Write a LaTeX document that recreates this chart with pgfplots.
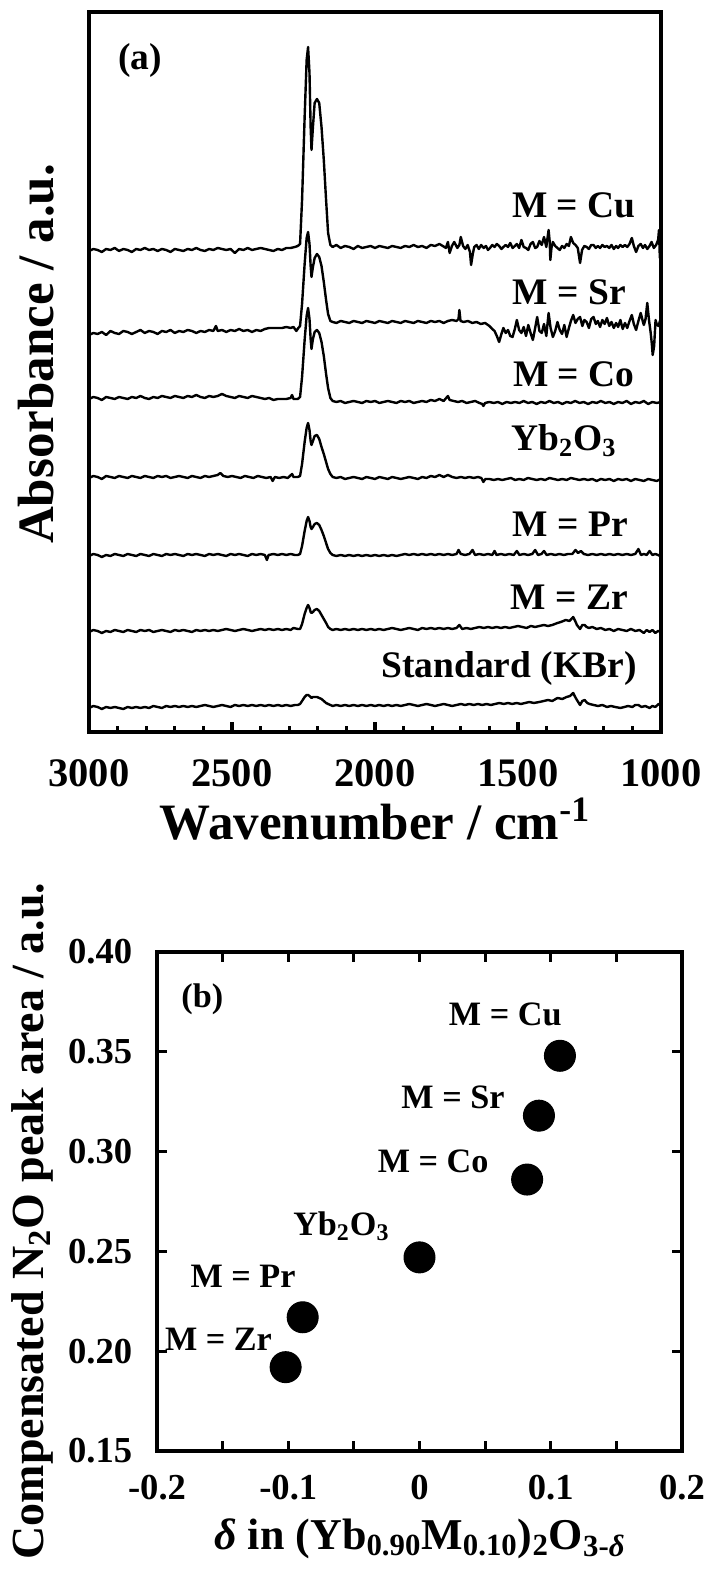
\documentclass[border=0pt]{standalone}
\usepackage{fontspec}
\setmainfont{Liberation Serif}
\usepackage{pgfplots}
\pgfplotsset{compat=1.18}

\newcommand{\lblfont}{\fontsize{18.75}{20}\selectfont\bfseries}
\newcommand{\lblfontB}{\fontsize{17.1}{19}\selectfont\bfseries}
\newcommand{\axfontA}{\fontsize{25.5}{28}\selectfont\bfseries}
\newcommand{\axfontB}{\fontsize{23}{25}\selectfont\bfseries}
\newcommand{\axfontC}{\fontsize{22}{24}\selectfont\bfseries}

\begin{document}
\begin{tikzpicture}[font=\bfseries]
\path[use as bounding box] (0,0) rectangle (352.5pt,786.5pt);

% ---------------- (a) FT-IR spectra ----------------
\begin{axis}[
  scale only axis, width=286pt, height=360pt,
  at={(44.5pt,420.5pt)}, anchor=south west,
  xmin=1000, xmax=3000, x dir=reverse, ymin=0, ymax=720,
  line width=1.8pt,
  axis line style={line width=1.8pt, line cap=rect},
  every tick/.style={black, line width=1.6pt},
  tick align=inside, xtick pos=bottom, ytick=\empty,
  xtick={1000,1500,2000,2500,3000},
  xticklabels={1000,1500,2000,2500,3000},
  minor xtick={1100,1200,1300,1400,1600,1700,1800,1900,2100,2200,2300,2400,2600,2700,2800,2900},
  major tick length=5pt, minor tick length=2.8pt,
  xticklabel style={font=\fontsize{20.25}{22}\selectfont\bfseries, anchor=base, inner sep=0pt, yshift=-27.5pt},
  every axis plot/.append style={line width=1.2pt, black, line join=round},
]
% M = Cu
\addplot[mark=none] coordinates {
(3000,481)(2985,483)(2970,482)(2955,480)(2940,483)(2925,482)(2910,484)(2895,481)(2880,483)(2865,482)(2850,480)(2835,483)(2820,482)(2805,484)(2790,482)(2775,483)(2760,481)(2745,483)(2730,482)(2715,480)(2700,483)(2685,482)(2670,481)(2655,483)(2640,482)(2625,484)(2610,482)(2595,481)(2580,483)(2565,482)(2550,484)(2535,483)(2520,482)(2505,483)(2490,479)(2475,483)(2460,482)(2445,484)(2430,482)(2415,483)(2400,484)(2385,483)(2370,482)(2355,481)(2340,483)(2325,482)(2310,484)(2295,484)(2280,485)(2270,486)
(2262,488)(2255,532)(2246,615)(2239,672)(2234,685)(2229,659)(2225,605)(2222,582)(2217,605)(2211,629)(2203,633)(2195,629)(2187,605)(2179,572)(2171,532)(2164,499)(2156,487)
(2148,485)(2135,487)(2120,484)(2105,486)(2090,485)(2075,483)(2060,486)(2045,484)(2030,485)(2015,486)(2000,484)(1985,486)(1970,485)(1955,484)(1940,486)(1925,485)(1910,484)(1895,486)(1880,485)(1865,487)(1850,485)(1835,486)(1820,484)(1805,487)(1790,486)(1775,488)(1763,486)(1752,484)(1745,490)(1739,479)(1731,486)(1723,490)(1712,484)(1705,487)(1700,495)(1692,486)(1684,483)(1676,487)(1668,480)(1664,467)(1658,478)(1653,485)(1645,487)(1637,483)(1629,487)(1620,484)(1612,486)(1605,482)(1598,484)(1590,487)(1582,485)(1574,488)(1566,486)(1558,483)(1551,485)(1543,487)(1535,485)(1527,489)(1519,484)(1511,486)(1504,488)(1496,484)(1488,492)(1480,485)(1472,484)(1464,482)(1456,488)(1448,490)(1440,484)(1433,485)(1425,491)(1417,487)(1409,495)(1401,485)(1393,502)(1389,490)(1387,472)(1383,484)(1378,490)(1370,486)(1362,484)(1354,482)(1346,486)(1338,484)(1330,488)(1322,486)(1315,495)(1307,489)(1299,487)(1291,484)(1283,469)(1276,482)(1268,486)(1260,485)(1252,483)(1244,487)(1236,487)(1228,484)(1221,486)(1213,484)(1205,487)(1197,485)(1189,486)(1181,484)(1173,487)(1165,483)(1157,486)(1150,484)(1142,487)(1134,485)(1126,487)(1118,485)(1110,488)(1102,494)(1095,486)(1087,480)(1079,486)(1071,488)(1063,484)(1056,487)(1048,483)(1040,486)(1033,490)(1025,484)(1017,487)(1010,492)(1007,502)(1004,474)(1000,493)
};
% M = Sr
\addplot[mark=none] coordinates {
(3000,397)(2985,399)(2970,398)(2955,400)(2940,397)(2925,401)(2910,399)(2895,398)(2880,401)(2865,400)(2850,398)(2835,400)(2820,402)(2805,399)(2790,401)(2775,400)(2760,398)(2745,401)(2730,400)(2715,402)(2700,399)(2685,401)(2670,400)(2655,402)(2640,401)(2625,399)(2610,401)(2595,400)(2580,402)(2565,401)(2556,406)(2550,401)(2535,402)(2520,400)(2505,402)(2490,401)(2475,403)(2460,401)(2445,402)(2430,400)(2415,402)(2400,401)(2385,403)(2370,404)(2355,404)(2340,404)(2325,404)(2310,405)(2295,404)(2285,405)(2275,401)(2268,404)
(2262,406)(2255,428)(2246,468)(2239,494)(2234,500)(2229,488)(2225,466)(2222,455)(2217,465)(2211,474)(2203,478)(2195,475)(2187,466)(2179,450)(2171,432)(2164,418)(2156,411)
(2148,410)(2135,409)(2120,411)(2105,410)(2090,409)(2075,411)(2060,410)(2045,409)(2030,411)(2015,410)(2000,409)(1985,411)(1970,410)(1955,409)(1940,411)(1925,410)(1910,409)(1895,411)(1880,410)(1865,409)(1850,411)(1835,410)(1820,409)(1805,411)(1790,410)(1775,411)(1760,409)(1745,411)(1730,412)(1715,411)(1708,413)(1705,422)(1701,411)(1690,410)(1675,411)(1660,409)(1645,410)(1630,408)(1615,409)(1600,406)(1590,403)(1582,401)(1574,396)(1566,390)(1558,398)(1551,404)(1543,399)(1535,402)(1527,396)(1519,395)(1511,403)(1504,412)(1496,402)(1488,399)(1480,405)(1472,396)(1464,407)(1456,399)(1448,392)(1440,404)(1433,415)(1425,401)(1417,399)(1409,408)(1401,396)(1393,419)(1386,404)(1378,395)(1370,401)(1362,410)(1354,402)(1346,398)(1338,407)(1330,395)(1322,404)(1315,411)(1307,417)(1299,409)(1291,413)(1283,415)(1275,406)(1268,412)(1260,410)(1252,404)(1244,413)(1236,415)(1228,408)(1221,411)(1213,405)(1205,412)(1197,408)(1189,414)(1181,406)(1173,410)(1165,404)(1157,409)(1150,405)(1142,412)(1134,403)(1126,409)(1118,404)(1110,411)(1102,417)(1095,408)(1087,402)(1079,411)(1071,419)(1063,410)(1060,407)(1054,413)(1048,429)(1042,412)(1036,399)(1032,388)(1029,377)(1024,386)(1019,412)(1014,407)(1008,406)(1004,411)(1000,410)
};
% M = Co
\addplot[mark=none] coordinates {
(3000,333)(2985,335)(2970,334)(2955,332)(2940,335)(2925,334)(2910,333)(2895,335)(2880,334)(2865,333)(2850,335)(2835,334)(2820,336)(2805,334)(2790,333)(2775,335)(2760,334)(2745,336)(2730,335)(2715,334)(2700,336)(2685,335)(2670,334)(2655,336)(2640,335)(2625,337)(2610,335)(2595,334)(2580,336)(2565,335)(2550,336)(2535,338)(2520,336)(2505,335)(2490,334)(2475,336)(2460,335)(2445,334)(2430,336)(2415,335)(2400,334)(2385,333)(2370,334)(2355,332)(2340,333)(2325,333)(2310,333)(2295,334)(2290,337)(2285,333)(2270,333)
(2262,335)(2255,355)(2246,392)(2239,416)(2234,424)(2229,413)(2225,393)(2222,383)(2217,393)(2211,400)(2203,402)(2195,399)(2187,390)(2179,376)(2171,358)(2164,344)(2156,334)
(2148,331)(2135,330)(2120,331)(2105,329)(2090,330)(2075,331)(2060,330)(2045,329)(2030,331)(2015,330)(2000,331)(1985,329)(1970,330)(1955,331)(1940,330)(1925,329)(1910,331)(1895,330)(1880,331)(1865,329)(1850,330)(1835,331)(1820,330)(1805,332)(1790,331)(1775,333)(1760,331)(1745,336)(1739,332)(1725,331)(1710,330)(1695,331)(1680,329)(1665,330)(1650,331)(1635,329)(1625,328)(1621,326)(1615,329)(1600,330)(1585,329)(1570,330)(1555,328)(1540,330)(1525,329)(1510,330)(1495,329)(1480,331)(1465,329)(1450,330)(1435,328)(1420,330)(1405,329)(1390,331)(1375,329)(1360,330)(1345,328)(1330,330)(1315,329)(1300,331)(1285,329)(1270,330)(1255,328)(1240,330)(1225,329)(1210,331)(1195,329)(1180,330)(1165,328)(1150,330)(1135,329)(1120,331)(1105,328)(1090,330)(1075,329)(1060,331)(1045,328)(1030,330)(1015,329)(1000,330)
};
% Yb2O3
\addplot[mark=none] coordinates {
(3000,254)(2985,256)(2970,255)(2955,253)(2940,256)(2925,255)(2910,254)(2895,256)(2880,255)(2865,254)(2850,256)(2835,255)(2820,254)(2805,256)(2790,255)(2775,254)(2760,256)(2745,255)(2730,256)(2715,254)(2700,255)(2685,256)(2670,255)(2655,254)(2640,256)(2625,255)(2610,254)(2595,256)(2580,255)(2565,256)(2550,257)(2541,259)(2530,256)(2515,255)(2500,256)(2485,255)(2470,254)(2455,256)(2440,255)(2425,254)(2410,256)(2395,255)(2380,254)(2365,255)(2358,251)(2350,255)(2335,254)(2320,255)(2305,254)(2290,258)(2285,255)(2270,255)
(2262,256)(2255,268)(2246,290)(2239,304)(2234,309)(2229,302)(2225,291)(2222,287)(2217,291)(2211,296)(2203,297)(2195,293)(2187,285)(2179,278)(2171,270)(2164,263)(2156,258)
(2148,255)(2135,254)(2120,255)(2105,253)(2090,254)(2075,255)(2060,254)(2045,253)(2030,255)(2015,254)(2000,253)(1985,255)(1970,254)(1955,253)(1940,255)(1925,254)(1910,253)(1895,254)(1880,255)(1865,254)(1850,253)(1835,255)(1820,254)(1805,256)(1790,255)(1775,257)(1760,255)(1745,257)(1730,255)(1715,254)(1700,255)(1685,254)(1670,255)(1655,254)(1640,255)(1628,254)(1621,250)(1614,253)(1600,253)(1585,252)(1570,253)(1555,252)(1540,253)(1525,254)(1510,252)(1495,253)(1480,252)(1465,254)(1450,253)(1435,252)(1420,253)(1405,252)(1390,254)(1375,253)(1360,252)(1345,253)(1330,252)(1315,254)(1300,253)(1285,252)(1270,253)(1255,252)(1240,253)(1225,251)(1210,253)(1195,252)(1180,253)(1165,251)(1150,253)(1135,252)(1120,253)(1105,251)(1090,253)(1075,252)(1060,251)(1045,253)(1030,252)(1015,251)(1000,253)
};
% M = Pr
\addplot[mark=none] coordinates {
(3000,176)(2985,178)(2970,177)(2955,175)(2940,177)(2925,176)(2910,178)(2895,177)(2880,176)(2865,178)(2850,177)(2835,176)(2820,178)(2805,177)(2790,176)(2775,178)(2760,177)(2745,176)(2730,178)(2715,177)(2700,178)(2685,177)(2670,176)(2655,178)(2640,177)(2625,178)(2610,177)(2595,176)(2580,178)(2565,177)(2550,178)(2535,177)(2520,176)(2505,178)(2490,177)(2475,178)(2460,177)(2445,176)(2430,178)(2415,177)(2400,178)(2385,177)(2378,172)(2372,177)(2355,178)(2340,177)(2325,178)(2310,177)(2295,178)(2280,177)(2270,177)
(2262,178)(2255,186)(2246,201)(2239,211)(2234,215)(2229,211)(2225,205)(2222,203)(2217,205)(2211,208)(2203,209)(2195,207)(2187,202)(2179,196)(2171,189)(2164,183)(2156,179)
(2148,177)(2135,176)(2120,177)(2105,176)(2090,177)(2075,176)(2060,177)(2045,176)(2030,177)(2015,176)(2000,177)(1985,176)(1970,177)(1955,176)(1940,177)(1925,176)(1910,177)(1895,178)(1880,177)(1865,178)(1850,177)(1835,178)(1820,177)(1805,178)(1790,177)(1775,178)(1760,177)(1745,178)(1730,177)(1715,178)(1708,182)(1700,178)(1685,177)(1670,178)(1659,182)(1650,177)(1635,178)(1620,177)(1605,178)(1590,177)(1582,181)(1575,177)(1560,178)(1545,177)(1530,178)(1515,177)(1504,181)(1495,177)(1480,178)(1465,177)(1450,178)(1440,182)(1430,177)(1418,178)(1409,181)(1400,177)(1385,178)(1370,177)(1355,178)(1340,177)(1325,178)(1310,178)(1299,182)(1290,179)(1280,181)(1270,178)(1255,177)(1240,178)(1225,177)(1210,178)(1195,177)(1180,178)(1165,177)(1150,178)(1135,177)(1120,178)(1105,177)(1090,178)(1079,183)(1070,177)(1060,178)(1050,177)(1040,181)(1030,177)(1020,178)(1010,177)(1003,176)(1000,178)
};
% M = Zr
\addplot[mark=none] coordinates {
(3000,100)(2985,102)(2970,101)(2955,99)(2940,101)(2925,100)(2910,102)(2895,101)(2880,100)(2865,102)(2850,101)(2835,100)(2820,102)(2805,101)(2790,102)(2775,100)(2760,101)(2745,102)(2730,101)(2715,100)(2700,102)(2685,101)(2670,102)(2655,101)(2640,100)(2625,102)(2610,101)(2595,102)(2580,101)(2565,102)(2550,101)(2535,102)(2520,103)(2505,102)(2490,101)(2475,102)(2460,103)(2445,102)(2430,101)(2415,102)(2400,103)(2385,102)(2370,103)(2355,102)(2340,103)(2325,102)(2310,103)(2295,102)(2285,104)(2270,103)
(2262,103)(2255,108)(2246,118)(2239,124)(2234,127)(2229,124)(2225,120)(2222,119)(2217,120)(2211,122)(2203,123)(2195,121)(2187,117)(2179,113)(2171,109)(2164,105)(2156,103)
(2148,102)(2135,103)(2120,102)(2105,103)(2090,102)(2075,103)(2060,102)(2045,103)(2030,102)(2015,103)(2000,102)(1985,103)(1970,102)(1955,103)(1940,104)(1925,103)(1910,102)(1895,103)(1880,104)(1865,103)(1850,102)(1835,104)(1820,103)(1805,104)(1790,103)(1775,104)(1760,103)(1745,104)(1730,103)(1715,104)(1705,107)(1695,103)(1680,104)(1665,103)(1650,104)(1635,105)(1620,104)(1605,105)(1590,104)(1575,105)(1560,104)(1545,105)(1530,104)(1515,105)(1500,106)(1485,105)(1470,104)(1455,106)(1440,105)(1425,106)(1410,107)(1395,106)(1380,107)(1362,109)(1350,110)(1333,112)(1320,111)(1307,115)(1300,111)(1294,107)(1283,103)(1275,107)(1267,107)(1260,105)(1252,104)(1240,105)(1225,103)(1210,104)(1195,102)(1180,103)(1165,101)(1150,103)(1135,102)(1120,101)(1105,103)(1090,101)(1075,102)(1060,99)(1050,102)(1040,100)(1030,102)(1020,99)(1010,101)(1000,100)
};
% Standard (KBr)
\addplot[mark=none] coordinates {
(3000,24)(2985,26)(2970,25)(2955,23)(2940,25)(2925,24)(2910,25)(2895,24)(2880,23)(2865,25)(2850,24)(2835,25)(2820,24)(2805,25)(2790,24)(2775,26)(2760,25)(2745,24)(2730,26)(2715,25)(2700,26)(2685,25)(2670,26)(2655,25)(2640,26)(2625,25)(2610,26)(2595,27)(2580,26)(2565,25)(2550,26)(2535,27)(2520,26)(2505,25)(2490,27)(2475,26)(2460,27)(2445,26)(2430,27)(2415,26)(2400,27)(2385,26)(2370,27)(2355,26)(2340,27)(2325,26)(2310,27)(2295,26)(2280,27)(2270,27)
(2262,28)(2255,31)(2246,35)(2239,37)(2234,37)(2229,36)(2225,35)(2222,34)(2217,35)(2211,35)(2203,35)(2195,34)(2187,33)(2179,31)(2171,29)(2164,28)(2156,27)
(2148,26)(2135,27)(2120,26)(2105,27)(2090,26)(2075,27)(2060,26)(2045,27)(2030,26)(2015,27)(2000,26)(1985,27)(1970,26)(1955,27)(1940,26)(1925,27)(1910,26)(1895,27)(1880,28)(1865,27)(1850,26)(1835,27)(1820,28)(1805,27)(1790,26)(1775,27)(1760,28)(1745,27)(1730,26)(1715,27)(1700,28)(1685,27)(1670,28)(1655,27)(1640,28)(1625,27)(1610,28)(1595,27)(1580,28)(1565,29)(1550,28)(1535,29)(1520,28)(1505,29)(1490,28)(1475,29)(1460,30)(1445,29)(1425,30)(1410,31)(1395,32)(1380,31)(1362,34)(1345,33)(1330,35)(1318,36)(1307,39)(1300,35)(1294,32)(1283,27)(1275,31)(1267,32)(1258,29)(1250,28)(1236,27)(1220,26)(1205,27)(1189,25)(1175,26)(1160,25)(1142,24)(1128,25)(1115,26)(1100,25)(1090,27)(1079,27)(1068,25)(1055,26)(1040,24)(1030,26)(1020,25)(1008,28)(1000,27)
};
\node[anchor=base west, font=\lblfont] at (axis cs:2927,662) {(a)};
\node[anchor=base east, font=\lblfont] at (axis cs:1059,514) {M = Cu};
\node[anchor=base east, font=\lblfont] at (axis cs:1094,427) {M = Sr};
\node[anchor=base east, font=\lblfont] at (axis cs:1063,345) {M = Co};
\node[anchor=base east, font=\lblfont] at (axis cs:1126,281) {Yb\textsubscript{2}O\textsubscript{3}};
\node[anchor=base east, font=\lblfont] at (axis cs:1087,195) {M = Pr};
\node[anchor=base east, font=\lblfont] at (axis cs:1087,122) {M = Zr};
\node[anchor=base east, font=\lblfont] at (axis cs:1056,54) {Standard (KBr)};
\end{axis}

\node[anchor=base, font=\axfontA] at (187.5pt,366.5pt) {Wavenumber / cm\textsuperscript{-1}};
\node[rotate=90, anchor=base, font=\axfontA] at (26.5pt,609.5pt) {Absorbance / a.u.};

% ---------------- (b) peak area vs. oxygen deficiency ----------------
\begin{axis}[
  scale only axis, width=262.5pt, height=249.5pt,
  at={(78.5pt,61pt)}, anchor=south west,
  xmin=-0.2, xmax=0.2, ymin=0.15, ymax=0.40,
  line width=1.8pt,
  axis line style={line width=1.8pt, line cap=rect},
  every tick/.style={black, line width=1.6pt},
  tick align=inside,
  xtick={-0.2,-0.1,0,0.1,0.2}, xticklabels={-0.2,-0.1,0,0.1,0.2},
  minor xtick={-0.15,-0.05,0.05,0.15},
  ytick={0.15,0.20,0.25,0.30,0.35,0.40},
  yticklabels={0.15,0.20,0.25,0.30,0.35,0.40},
  major tick length=5pt, minor tick length=5pt,
  xticklabel style={font=\fontsize{18.3}{20}\selectfont\bfseries, anchor=base, inner sep=0pt, yshift=-24.5pt},
  yticklabel style={font=\fontsize{18.3}{20}\selectfont\bfseries, anchor=east, inner sep=0pt, xshift=-11.5pt},
]
\addplot[only marks, mark=*, mark size=7.75pt, black, mark options={line width=0.5pt}] coordinates {
(0.107,0.348) (0.091,0.318) (0.082,0.286) (0.000,0.247) (-0.089,0.217) (-0.102,0.192)
};
\node[anchor=base west, font=\lblfontB] at (axis cs:-0.1878,0.3724) {(b)};
\node[anchor=base east, font=\lblfontB] at (axis cs:0.1147,0.3634) {M = Cu};
\node[anchor=base east, font=\lblfontB] at (axis cs:0.0712,0.3218) {M = Sr};
\node[anchor=base east, font=\lblfontB] at (axis cs:0.0590,0.2893) {M = Co};
\node[anchor=base east, font=\lblfontB] at (axis cs:-0.0164,0.2582) {Yb\textsubscript{2}O\textsubscript{3}};
\node[anchor=base east, font=\lblfontB] at (axis cs:-0.088,0.2317) {M = Pr};
\node[anchor=base east, font=\lblfontB] at (axis cs:-0.1060,0.2006) {M = Zr};
\end{axis}

\node[anchor=base, font=\axfontC] at (210pt,12pt) {{\itshape δ} in (Yb\textsubscript{0.90}M\textsubscript{0.10})\textsubscript{2}O\textsubscript{3-{\itshape δ}}};
\node[rotate=90, anchor=base, font=\axfontB] at (21.5pt,176pt) {Compensated N\textsubscript{2}O peak area / a.u.};
\end{tikzpicture}
\end{document}
